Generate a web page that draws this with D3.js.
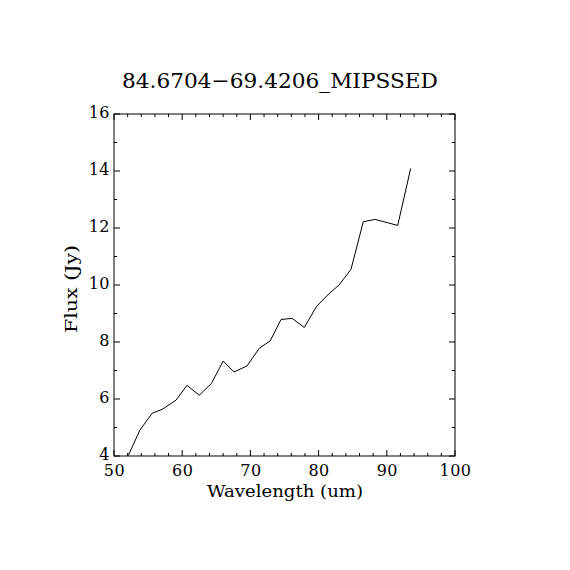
<!DOCTYPE html>
<html>
<head>
<meta charset="utf-8">
<script src="https://cdn.jsdelivr.net/npm/d3@7"></script>
<style>
  body { margin: 0; background: #fff; }
  text { font-family: "DejaVu Serif", serif; fill: #000; }
</style>
</head>
<body>
<div class="svg-content"></div>
<script>
// wavelength (um) and flux (Jy)
const wavelength = [52.1, 53.8, 55.6, 57.1, 59.1, 60.7, 62.5, 64.3, 66.0, 67.6, 69.5, 71.3, 72.9,
                    74.5, 76.1, 77.9, 79.7, 81.6, 83.0, 84.75, 86.55, 88.3, 91.6, 93.5];
const flux = [4.02, 4.91, 5.50, 5.64, 5.96, 6.48, 6.13, 6.55, 7.33, 6.95, 7.16, 7.78, 8.04,
              8.79, 8.83, 8.51, 9.25, 9.71, 10.0, 10.55, 12.22, 12.30, 12.09, 14.09];
const xTicks = [50, 60, 70, 80, 90, 100];
const yTicks = [4, 6, 8, 10, 12, 14, 16];
const titleText = "84.6704\u221269.4206_MIPSSED";

const svgWidth = 570;
const svgHeight = 570;
const plotLeft = 114, plotRight = 455, plotTop = 114, plotBottom = 456;

const xScale = d3.scaleLinear().domain([50, 100]).range([plotLeft, plotRight]);
const yScale = d3.scaleLinear().domain([4, 16]).range([plotBottom, plotTop]);

const svg = d3.select(".svg-content")
              .append("svg")
              .attr("width", svgWidth)
              .attr("height", svgHeight);

svg.append("clipPath").attr("id", "plot-clip")
   .append("rect")
   .attr("x", plotLeft).attr("y", plotTop)
   .attr("width", plotRight - plotLeft).attr("height", plotBottom - plotTop);

const line = d3.line()
               .x((d, i) => xScale(wavelength[i]))
               .y(d => yScale(d));

svg.append("path")
   .datum(flux)
   .attr("d", line)
   .attr("clip-path", "url(#plot-clip)")
   .attr("fill", "none")
   .attr("stroke", "#000")
   .attr("stroke-width", 1);

// axes on all four sides, IDL style
const xMinor = d3.range(50, 100.1, 2);
const yMinor = d3.range(4, 16.1, 1);

const bottomAxis = d3.axisBottom(xScale).tickValues(xTicks).tickSize(0).tickFormat(d3.format("d"));
const gx = svg.append("g")
   .attr("transform", "translate(0," + plotBottom + ")")
   .call(bottomAxis);
gx.select(".domain").remove();
gx.selectAll("text").attr("dy", null).attr("y", 20)
  .style("font-size", "16px").style("letter-spacing", "0.5px");

const leftAxis = d3.axisLeft(yScale).tickValues(yTicks).tickSize(0).tickFormat(d3.format("d"));
const gy = svg.append("g")
   .attr("transform", "translate(" + plotLeft + ",0)")
   .call(leftAxis);
gy.select(".domain").remove();
gy.selectAll("text").attr("x", -4).attr("dy", "0.2em")
  .style("font-size", "16px").style("letter-spacing", "0.5px");

const ticks = svg.append("g").attr("stroke", "#000").attr("stroke-width", 1);
xMinor.forEach(v => {
  const len = v % 10 === 0 ? 6 : 3;
  const x = xScale(v);
  ticks.append("line").attr("x1", x).attr("x2", x).attr("y1", plotBottom).attr("y2", plotBottom - len);
  ticks.append("line").attr("x1", x).attr("x2", x).attr("y1", plotTop).attr("y2", plotTop + len);
});
yMinor.forEach(v => {
  const len = v % 2 === 0 ? 6 : 3;
  const y = yScale(v);
  ticks.append("line").attr("x1", plotLeft).attr("x2", plotLeft + len).attr("y1", y).attr("y2", y);
  ticks.append("line").attr("x1", plotRight).attr("x2", plotRight - len).attr("y1", y).attr("y2", y);
});

svg.append("rect")
   .attr("x", plotLeft).attr("y", plotTop)
   .attr("width", plotRight - plotLeft).attr("height", plotBottom - plotTop)
   .attr("fill", "none").attr("stroke", "#000").attr("stroke-width", 1);

svg.append("text")
   .attr("x", 280)
   .attr("y", 88)
   .attr("text-anchor", "middle")
   .attr("textLength", 316)
   .attr("lengthAdjust", "spacingAndGlyphs")
   .style("font-size", "21px")
   .text(titleText);

svg.append("text")
   .attr("x", 285)
   .attr("y", 497)
   .attr("text-anchor", "middle")
   .attr("textLength", 156)
   .attr("lengthAdjust", "spacingAndGlyphs")
   .style("font-size", "16px")
   .text("Wavelength (um)");

svg.append("text")
   .attr("transform", "translate(77,289) rotate(-90)")
   .attr("text-anchor", "middle")
   .attr("textLength", 88)
   .attr("lengthAdjust", "spacingAndGlyphs")
   .style("font-size", "16px")
   .text("Flux (Jy)");
</script>
</body>
</html>
